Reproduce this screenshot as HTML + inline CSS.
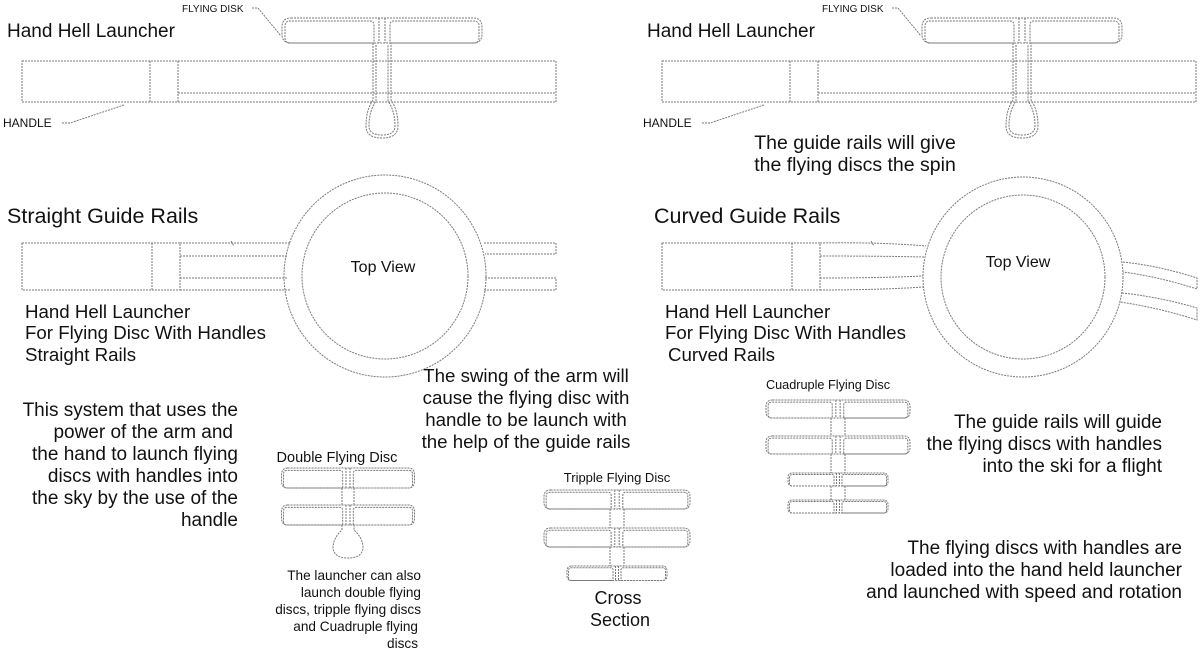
<!DOCTYPE html>
<html><head><meta charset="utf-8"><style>
html,body{margin:0;padding:0;background:#fff}
svg{display:block}
text{font-family:"Liberation Sans",sans-serif;fill:#111}
.l{fill:none;stroke:#7a7a7a;stroke-width:1;stroke-dasharray:2 1;vector-effect:non-scaling-stroke}
</style></head><body>
<svg width="1200" height="650" viewBox="0 0 1200 650" xmlns="http://www.w3.org/2000/svg">
<defs>
<g id="disc">
<path class="l" d="M-91,0 H91 Q100,0 100,9 V16 Q100,25 91,25 H-91 Q-100,25 -100,16 V9 Q-100,0 -91,0 Z"/>
<path class="l" d="M-8,25 H-92 Q-97,25 -97,20 V8 Q-97,3 -92,3 H-12 Q-8,3 -8,7 Z"/>
<path class="l" d="M8,25 H92 Q97,25 97,20 V8 Q97,3 92,3 H12 Q8,3 8,7 Z"/>
<path class="l" d="M-3,0 V25 M3,0 V25"/>
</g>
<g id="launcher">
<rect class="l" x="0" y="0" width="534" height="41"/>
<path class="l" d="M128,0 V41 M156,0 V41 M156,32 H534"/>
</g>
<g id="handle">
<path class="l" d="M-9,25 V82 Q-16,92 -16,108 Q-16,120 0,120 Q16,120 16,108 Q16,92 9,82 V25"/>
<path class="l" d="M-6,27 V83 Q-13,93 -13,108 Q-13,117 0,117 Q13,117 13,108 Q13,93 6,83 V27"/>
</g>
</defs>

<!-- Top left -->
<text x="7" y="37" font-size="19">Hand Hell Launcher</text>
<text x="182" y="12" font-size="10">FLYING DISK</text>
<path class="l" d="M252,8 H258 L281,36"/>
<use href="#launcher" x="22" y="61"/>
<use href="#disc" x="382" y="18"/>
<use href="#handle" x="382" y="18"/>
<text x="3" y="127" font-size="12">HANDLE</text>
<path class="l" d="M62,123 H70 L124,105"/>

<!-- Top right -->
<text x="647" y="37" font-size="19">Hand Hell Launcher</text>
<text x="822" y="12" font-size="10">FLYING DISK</text>
<path class="l" d="M892,8 H898 L921,36"/>
<use href="#launcher" x="662" y="61"/>
<use href="#disc" x="1022" y="18"/>
<use href="#handle" x="1022" y="18"/>
<text x="643" y="127" font-size="12">HANDLE</text>
<path class="l" d="M702,123 H710 L764,105"/>
<text x="855" y="149" font-size="19.5" text-anchor="middle">The guide rails will give</text>
<text x="855" y="171" font-size="19.5" text-anchor="middle">the flying discs the spin</text>

<!-- Straight guide rails -->
<text x="7" y="223" font-size="21.5">Straight Guide Rails</text>
<rect class="l" x="22" y="243" width="158" height="47"/>
<path class="l" d="M152,243 V290 M180,243 H290 M180,256 H287 M180,278 H287 M180,290 H290"/>
<path class="l" d="M231,241 L234,246"/>
<circle class="l" cx="385" cy="276" r="101"/>
<circle class="l" cx="385" cy="276" r="83"/>
<path class="l" d="M484,243 H556 V254 H485 M485,278 H556 V290 H484"/>
<text x="383" y="272" font-size="16" text-anchor="middle">Top View</text>
<g font-size="18.7">
<text x="25" y="318">Hand Hell Launcher</text>
<text x="25" y="339">For Flying Disc With Handles</text>
<text x="25" y="361">Straight Rails</text>
</g>

<!-- Curved guide rails -->
<text x="654" y="223" font-size="21.5">Curved Guide Rails</text>
<rect class="l" x="662" y="243" width="158" height="47"/>
<path class="l" d="M792,243 V290 M820,243 Q880,242 926,246 M820,256 Q880,256 924,257 M820,278 Q880,278 923,276 M820,290 Q880,290 923,287"/>
<path class="l" d="M871,241 L874,246"/>
<circle class="l" cx="1023" cy="277" r="100"/>
<circle class="l" cx="1023" cy="277" r="82"/>
<path class="l" d="M1123,262 Q1160,266 1197,278 V289 Q1160,277 1123,272 M1122,293 Q1160,297 1197,308 V320 Q1160,308 1120,302"/>
<text x="1018" y="267" font-size="16" text-anchor="middle">Top View</text>
<g font-size="18.7">
<text x="665" y="318">Hand Hell Launcher</text>
<text x="665" y="339">For Flying Disc With Handles</text>
<text x="668" y="361">Curved Rails</text>
</g>

<!-- Middle text -->
<g font-size="18.7" text-anchor="middle">
<text x="526" y="382">The swing of the arm will</text>
<text x="526" y="404">cause the flying disc with</text>
<text x="526" y="426">handle to be launch with</text>
<text x="526" y="448">the help of the guide rails</text>
</g>

<g font-size="19" text-anchor="end">
<text x="238" y="416">This system that uses the</text>
<text x="233" y="438">power of the arm and</text>
<text x="238" y="460">the hand to launch flying</text>
<text x="238" y="482">discs with handles into</text>
<text x="238" y="504">the sky by the use of the</text>
<text x="238" y="526">handle</text>
</g>

<!-- Double -->
<text x="337" y="462" font-size="14.5" text-anchor="middle">Double Flying Disc</text>
<use href="#disc" transform="translate(348,468) scale(0.665,0.8)"/>
<use href="#disc" transform="translate(348,505) scale(0.665,0.8)"/>
<path class="l" d="M342,488 V505 M354,488 V505 M342,525 V530 Q333,538 333,548 Q334,558 348,558 Q362,558 363,548 Q363,538 354,530 V525"/>
<g font-size="13.6" text-anchor="end">
<text x="421" y="580">The launcher can also</text>
<text x="421" y="597">launch double flying</text>
<text x="421" y="614">discs, tripple flying discs</text>
<text x="418" y="631">and Cuadruple flying</text>
<text x="418" y="648">discs</text>
</g>

<!-- Triple -->
<text x="617" y="482" font-size="13" text-anchor="middle">Tripple Flying Disc</text>
<use href="#disc" transform="translate(617,490) scale(0.73,0.76)"/>
<use href="#disc" transform="translate(617,528) scale(0.73,0.76)"/>
<use href="#disc" transform="translate(617,566) scale(0.5,0.58)"/>
<path class="l" d="M610,509 V528 M624,509 V528 M610,547 V566 M624,547 V566"/>
<text x="618" y="604" font-size="18" text-anchor="middle">Cross</text>
<text x="620" y="626" font-size="18" text-anchor="middle">Section</text>

<!-- Quadruple -->
<text x="828" y="389" font-size="12.7" text-anchor="middle">Cuadruple Flying Disc</text>
<use href="#disc" transform="translate(838,400) scale(0.72,0.72)"/>
<use href="#disc" transform="translate(838,436) scale(0.72,0.72)"/>
<use href="#disc" transform="translate(838,473) scale(0.5,0.52)"/>
<use href="#disc" transform="translate(838,500) scale(0.5,0.52)"/>
<path class="l" d="M831,418 V436 M845,418 V436 M831,454 V473 M845,454 V473 M831,486 V500 M845,486 V500"/>

<g font-size="19" text-anchor="end">
<text x="1162" y="428">The guide rails will guide</text>
<text x="1162" y="450">the flying discs with handles</text>
<text x="1162" y="472">into the ski for a flight</text>
<text x="1182" y="554">The flying discs with handles are</text>
<text x="1182" y="576">loaded into the hand held launcher</text>
<text x="1182" y="598">and launched with speed and rotation</text>
</g>
</svg>
</body></html>
